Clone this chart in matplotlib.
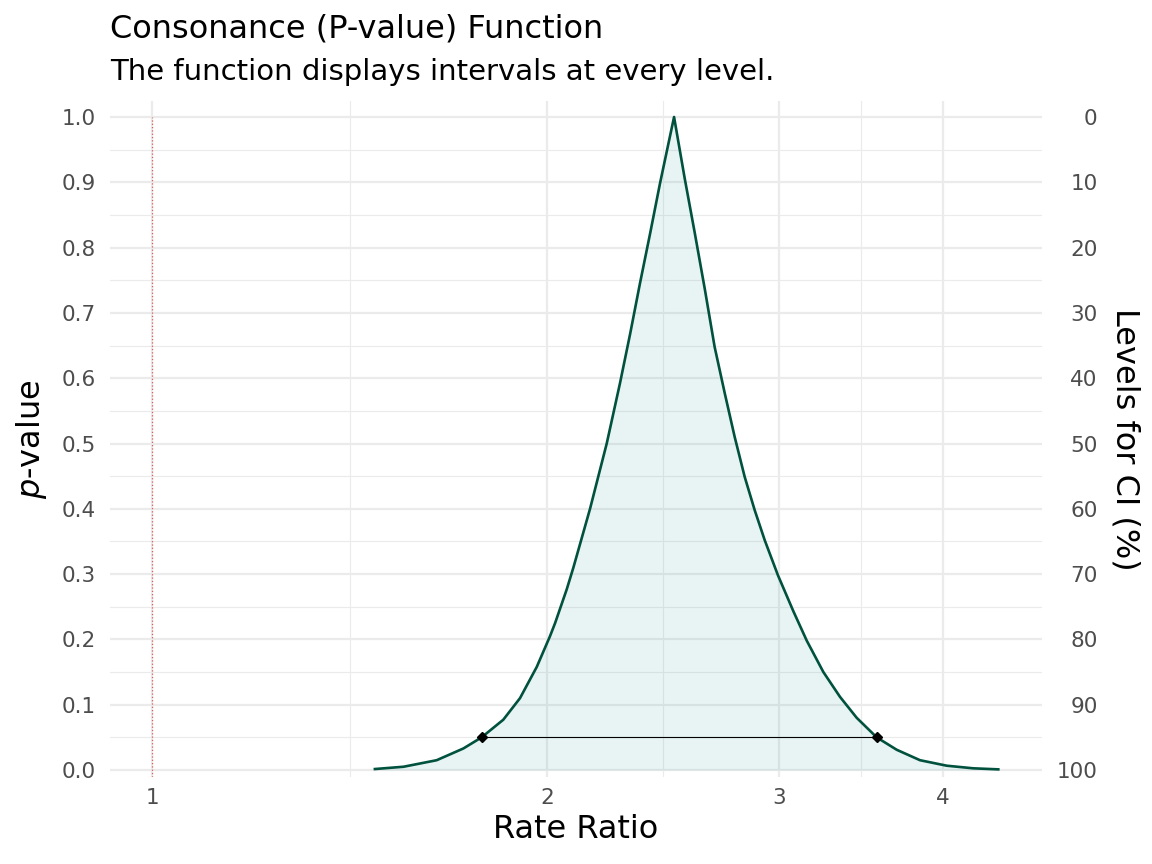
import matplotlib
matplotlib.use("Agg")
import matplotlib.pyplot as plt
import numpy as np
from matplotlib.ticker import NullFormatter

# p-value function (rate ratio, p-value)
rate_ratio = [1.478, 1.554, 1.647, 1.726, 1.782, 1.851, 1.906, 1.963, 2.009, 2.027,
              2.069, 2.093, 2.155, 2.219, 2.271, 2.312, 2.352, 2.394, 2.436, 2.497,
              2.544, 2.589, 2.635, 2.681, 2.729, 2.777, 2.826, 2.876, 2.927, 2.996,
              3.078, 3.151, 3.244, 3.340, 3.439, 3.562, 3.689, 3.843, 4.027, 4.219, 4.408]
p_value = [0.0015, 0.005, 0.015, 0.033, 0.050, 0.077, 0.110, 0.158, 0.205, 0.225,
           0.277, 0.310, 0.400, 0.500, 0.592, 0.668, 0.745, 0.821, 0.898, 1.000,
           0.906, 0.823, 0.737, 0.648, 0.577, 0.510, 0.449, 0.398, 0.352, 0.298,
           0.243, 0.198, 0.150, 0.112, 0.080, 0.050, 0.031, 0.015, 0.0066, 0.0026, 0.001]
ci_lower = 1.782
ci_upper = 3.562
ci_p = 0.05
null_value = 1
x_ticks = [1, 2, 3, 4]
y_ticks = [0.0, 0.1, 0.2, 0.3, 0.4, 0.5, 0.6, 0.7, 0.8, 0.9, 1.0]
ci_levels = [100, 90, 80, 70, 60, 50, 40, 30, 20, 10, 0]

line_col = "#00513d"
fill_col = "#239a98"
grid_col = "#ebebeb"
tick_col = "#4d4d4d"

fig = plt.figure(figsize=(11.52, 8.64), dpi=100)
ax = fig.add_axes([110/1152, 87/864, 932/1152, 676/864])
ax.set_xscale('log')
ax.set_xlim(0.929, 4.759)
ax.set_ylim(-0.0107, 1.0245)

# grid like theme_minimal
ax.set_xticks(x_ticks)
ax.set_xticklabels([str(v) for v in x_ticks])
minor_x = [np.sqrt(x_ticks[i]*x_ticks[i+1]) for i in range(len(x_ticks)-1)]
ax.set_xticks(minor_x, minor=True)
ax.xaxis.set_minor_formatter(NullFormatter())
ax.set_yticks(y_ticks)
ax.set_yticklabels(["%.1f" % v for v in y_ticks])
ax.set_yticks(np.arange(0.05, 1.0, 0.1), minor=True)
ax.grid(which='major', color=grid_col, linewidth=1.6)
ax.grid(which='minor', color=grid_col, linewidth=0.8)
ax.set_axisbelow(True)
for s in ax.spines.values():
    s.set_visible(False)
ax.tick_params(which='both', length=0)
ax.tick_params(axis='y', labelsize=15.5, labelcolor=tick_col, pad=10)
ax.tick_params(axis='x', labelsize=15.5, labelcolor=tick_col, pad=8)

ax.vlines(null_value, ax.get_ylim()[0], 1.0, colors="#e4575a", linestyles=':', linewidth=0.9)
ax.fill_between(rate_ratio, 0, p_value, color=fill_col, alpha=0.1, linewidth=0)
ax.plot(rate_ratio, p_value, color=line_col, linewidth=1.9)
ax.plot([ci_lower, ci_upper], [ci_p, ci_p], color='black', linewidth=0.8)
ax.plot([ci_lower, ci_upper], [ci_p, ci_p], linestyle='none', marker='D', color='black', markersize=5)

ax.set_xlabel("Rate Ratio", fontsize=23)
ax.xaxis.set_label_coords(0.5, -0.0784)
ax.xaxis.label.set_va('center')
ax.set_ylabel(r"$\it{p}$-value", fontsize=23)
ax.yaxis.set_label_coords(-0.0837, 0.5)
ax.yaxis.label.set_va('center')

ax2 = ax.twinx()
ax2.set_ylim(ax.get_ylim())
ax2.set_yticks(y_ticks)
ax2.set_yticklabels([str(v) for v in ci_levels])
for s in ax2.spines.values():
    s.set_visible(False)
ax2.tick_params(length=0, labelsize=15.5, labelcolor=tick_col, pad=40)
for lab in ax2.get_yticklabels():
    lab.set_horizontalalignment('right')
ax2.set_ylabel("Levels for CI (%)", fontsize=23, rotation=-90)
ax2.yaxis.set_label_coords(1.089, 0.5)
ax2.yaxis.label.set_va('center')

fig.text(110/1152, 1 - 38/864, "Consonance (P-value) Function", fontsize=23, va='baseline')
fig.text(110/1152, 1 - 80/864, "The function displays intervals at every level.", fontsize=21, va='baseline')

fig.savefig("out.png", dpi=100)
